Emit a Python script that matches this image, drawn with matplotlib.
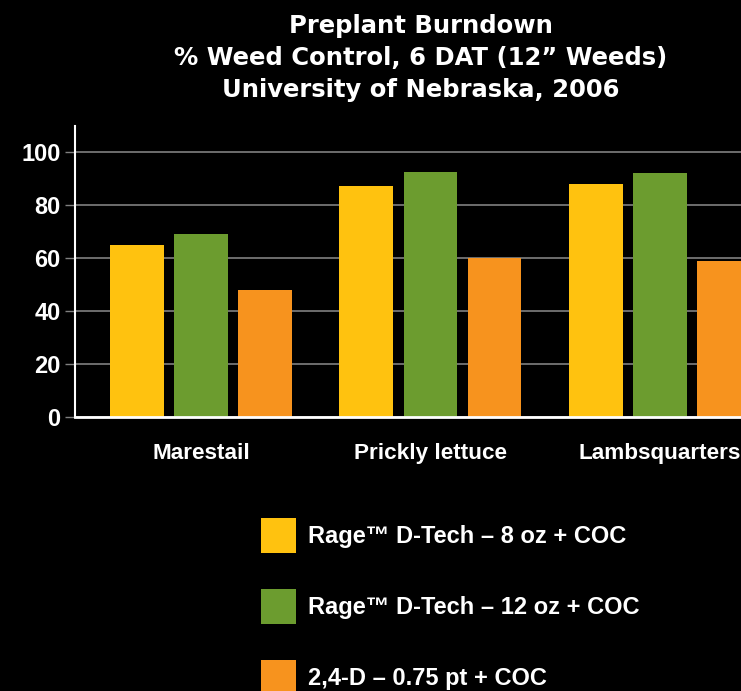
import os
import matplotlib
matplotlib.use('Agg')
import matplotlib.pyplot as plt
from matplotlib import font_manager as fm
import numpy as np

# data
weeds = ['Marestail', 'Prickly lettuce', 'Lambsquarters']
treatments = ['Rage\u2122 D-Tech \u2013 8 oz + COC',
              'Rage\u2122 D-Tech \u2013 12 oz + COC',
              '2,4-D \u2013 0.75 pt + COC']
rage_8oz = [65, 87, 88]
rage_12oz = [69, 92.5, 92]
d24 = [48, 60, 59]
yticks = [0, 20, 40, 60, 80, 100]

colors = ['#FFC20F', '#6C9C2F', '#F7931E']


# pick a font file by name, fall back to DejaVu Sans Bold
def font_by_file(names, size):
    for name in names:
        for f in fm.fontManager.ttflist:
            if os.path.basename(f.fname).lower() == name.lower():
                return fm.FontProperties(fname=f.fname, size=size)
    return fm.FontProperties(family='DejaVu Sans', weight='bold', size=size)


narrow = ['LiberationSansNarrow-Bold.ttf', 'LiberationSans-Bold.ttf']

fig = plt.figure(figsize=(7.41, 6.91), dpi=100, facecolor='black')
W, H = 741, 691
ax = fig.add_axes([75 / W, (H - 417) / H, (W - 75) / W, 291 / H])
ax.set_facecolor('black')

x = np.arange(len(weeds))
width = 0.235
step = 0.279
for i, (vals, lab) in enumerate(zip([rage_8oz, rage_12oz, d24], treatments)):
    ax.bar(x + (i - 1) * step, vals, width, color=colors[i], label=lab, zorder=3)

ax.set_xlim(-0.549, 2.353)
ax.set_ylim(0, 109.8)
ax.set_yticks(yticks)
ax.set_yticklabels([str(t) for t in yticks], fontproperties=font_by_file(narrow, 17),
                   color='white')
ax.set_xticks(x)
ax.set_xticklabels(weeds, fontproperties=font_by_file(narrow, 16.2), color='white')
ax.tick_params(axis='y', length=7.5, width=1, color='#808080', pad=3)
ax.tick_params(axis='x', length=0, pad=18.5)
ax.grid(True, axis='y', color='#808080', linewidth=1.2, zorder=0)

for side in ['top', 'right']:
    ax.spines[side].set_visible(False)
ax.spines['left'].set_color('white')
ax.spines['left'].set_linewidth(1.5)
ax.spines['bottom'].set_color('white')
ax.spines['bottom'].set_linewidth(2)
ax.spines['bottom'].set_zorder(4)

title_lines = ['Preplant Burndown',
               '% Weed Control, 6 DAT (12\u201d Weeds)',
               'University of Nebraska, 2006']
for k, line in enumerate(title_lines):
    fig.text(421 / W, 1 - (33 + 32 * k) / H, line, ha='center', va='baseline',
             family='DejaVu Sans', fontweight='bold', fontsize=17.5, color='white')

handles, labels = ax.get_legend_handles_labels()
leg = fig.legend(handles, labels, loc='upper left',
                 bbox_to_anchor=(252 / W, 1 - 509 / H),
                 frameon=False, handlelength=1.48, handleheight=1.9,
                 handletextpad=0.5, labelspacing=1.51, borderaxespad=0,
                 prop=font_by_file(narrow, 17))
for t in leg.get_texts():
    t.set_color('white')

fig.savefig('out.png', dpi=100, facecolor='black')
